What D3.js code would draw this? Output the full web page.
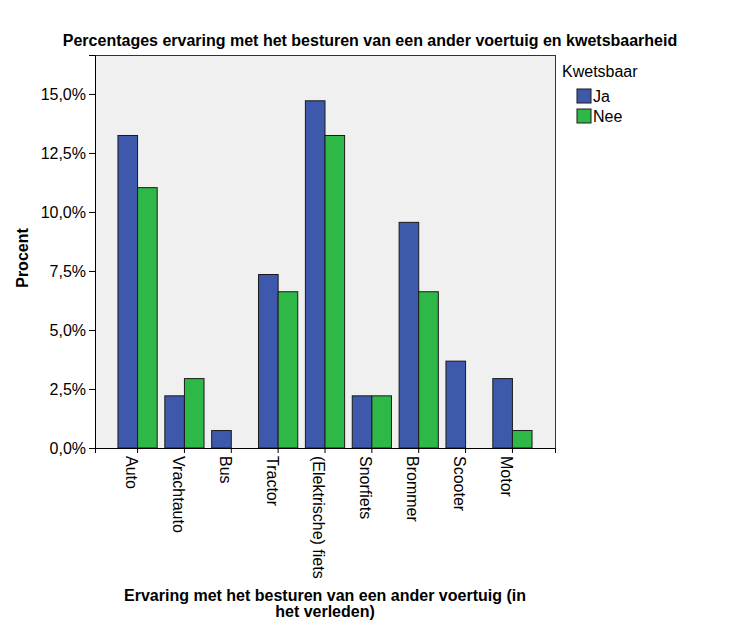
<!DOCTYPE html>
<html><head><meta charset="utf-8">
<script src="https://cdn.jsdelivr.net/npm/d3@7"></script>
<style>body{margin:0;background:#fff;} text{font-family:"Liberation Sans",Arial,sans-serif;}</style>
</head><body>
<svg id="chart" width="742" height="634"></svg>
<script>
const categories = ["Auto","Vrachtauto","Bus","Tractor","(Elektrische) fiets","Snorfiets","Brommer","Scooter","Motor"];
const seriesNames = ["Ja","Nee"];
const valuesJa  = [13.24, 2.21, 0.74, 7.35, 14.71, 2.21, 9.56, 3.68, 2.94];
const valuesNee = [11.03, 2.94, 0.00, 6.62, 13.24, 2.21, 6.62, 0.00, 0.74];
const yTicks = [0, 2.5, 5, 7.5, 10, 12.5, 15];
const colors = ["#3e58ac", "#2eb848"];

const svg = d3.select("#chart");
const L = 95, R = 555, T = 55, B = 448;
const yMax = 16.65;

const x = d3.scaleBand().domain(categories).range([L, R]).paddingInner(0.163).paddingOuter(0.49);
const xs = d3.scaleBand().domain(seriesNames).range([0, x.bandwidth()]);
const y = d3.scaleLinear().domain([0, yMax]).range([B, T]);

svg.append("rect").attr("x", L).attr("y", T).attr("width", R - L).attr("height", B - T)
  .attr("fill", "#f0f0f0").attr("stroke", "#333").attr("stroke-width", 1).attr("shape-rendering","crispEdges");

const data = categories.map((c, i) => ({cat: c, vals: [valuesJa[i], valuesNee[i]]}));
const g = svg.append("g");
data.forEach(d => {
  d.vals.forEach((v, j) => {
    g.append("rect")
      .attr("x", x(d.cat) + xs(seriesNames[j]))
      .attr("y", y(v))
      .attr("width", xs.bandwidth())
      .attr("height", B - y(v))
      .attr("fill", colors[j])
      .attr("stroke", "#1a1a1a").attr("stroke-width", 1);
  });
});

const fmt = v => d3.format(".1f")(v).replace(".", ",") + "%";
const yAxis = svg.append("g").attr("transform", `translate(${L},0)`)
  .call(d3.axisLeft(y).tickValues(yTicks).tickFormat(fmt).tickSize(6).tickPadding(3));
yAxis.select(".domain").attr("stroke", "#000");
yAxis.selectAll("text").attr("font-size", 16).attr("fill", "#000");

const xAxis = svg.append("g").attr("transform", `translate(0,${B})`)
  .call(d3.axisBottom(x).tickSize(5));
xAxis.select(".domain").attr("stroke", "#000");
xAxis.selectAll("text").remove();
xAxis.selectAll(".tick").append("text")
  .attr("transform", "translate(0,8) rotate(90)")
  .attr("dy", "0.72em")
  .attr("text-anchor", "start")
  .attr("font-size", 16).attr("fill", "#000")
  .text(d => d);

svg.append("text").attr("x", 370).attr("y", 46).attr("text-anchor", "middle")
  .attr("font-size", 16).attr("font-weight", "bold").text("Percentages ervaring met het besturen van een ander voertuig en kwetsbaarheid");

svg.append("text").attr("transform", "translate(28,258) rotate(-90)").attr("text-anchor", "middle")
  .attr("font-size", 16).attr("font-weight", "bold").text("Procent");

svg.append("text").attr("x", 325).attr("y", 601).attr("text-anchor", "middle")
  .attr("font-size", 16).attr("font-weight", "bold").text("Ervaring met het besturen van een ander voertuig (in");
svg.append("text").attr("x", 325).attr("y", 617).attr("text-anchor", "middle")
  .attr("font-size", 16).attr("font-weight", "bold").text("het verleden)");

const leg = svg.append("g");
leg.append("text").attr("x", 562).attr("y", 77).attr("font-size", 16).text("Kwetsbaar");
seriesNames.forEach((s, i) => {
  leg.append("rect").attr("x", 577).attr("y", 89 + i * 20).attr("width", 14).attr("height", 14)
    .attr("fill", colors[i]).attr("stroke", "#1a1a1a");
  leg.append("text").attr("x", 593).attr("y", 102 + i * 20).attr("font-size", 16).text(s);
});
</script>
</body></html>
